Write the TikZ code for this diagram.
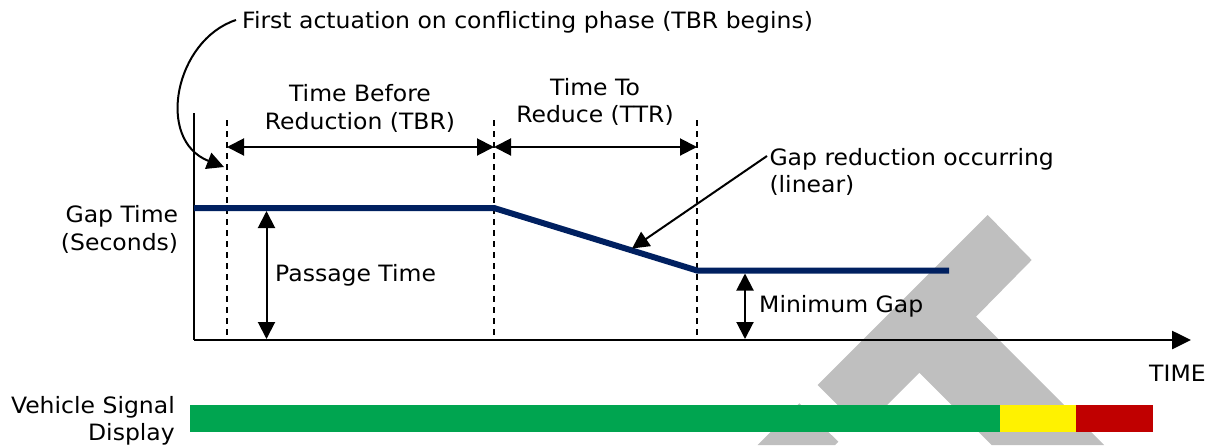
\documentclass[tikz,border=0pt]{standalone}
\usepackage{fontspec}
\setmainfont[FakeStretch=1.045]{DejaVu Sans}
\usetikzlibrary{arrows.meta}
\definecolor{gapnavy}{RGB}{0,32,96}
\definecolor{siggreen}{RGB}{0,165,80}
\definecolor{sigyellow}{RGB}{255,242,0}
\definecolor{sigred}{RGB}{192,0,0}
\definecolor{markgray}{RGB}{191,191,191}
\setlength{\tabcolsep}{0pt}
\begin{document}
\begin{tikzpicture}[x=1pt,y=-1pt,
  lbl/.style={inner sep=0pt, font=\fontsize{22.5}{27.3}\selectfont},
  dimline/.style={line width=2pt, {Triangle[length=17pt,width=17pt]}-{Triangle[length=17pt,width=17pt]}},
  leader/.style={line width=2pt, -{Triangle[length=17pt,width=17pt]}},
  guide/.style={line width=1.8pt, dash pattern=on 6pt off 5pt},
  axisline/.style={line width=2.6pt},
  gapline/.style={gapnavy, line width=6pt},
  sigbar/.style={draw=none, minimum height=26.7pt, inner sep=0pt, anchor=north west}]
\useasboundingbox (0,0) rectangle (1210,445);

% background mark
\fill[markgray] (987.7,215) -- (1031.7,260) -- (976,316.7) -- (1104,445) -- (991.6,445)
  -- (919.3,372.7) -- (862.4,429.6) -- (817.7,385) -- cycle;
\fill[markgray] (799.3,403.3) -- (838.3,441.7) -- (835,445) -- (757.6,445) -- cycle;

% axes
\coordinate (origin) at (194,340);
\coordinate (ytop) at (194,113);
\coordinate (xend) at (1191,340);
\draw[axisline] (ytop) -- (origin);
\draw[axisline, -{Triangle[length=19pt,width=18pt]}] (origin) -- (xend);

% phase boundaries
\coordinate (t0) at (227,120);  \coordinate (t0b) at (227,340);
\coordinate (t1) at (494,120);  \coordinate (t1b) at (494,340);
\coordinate (t2) at (697,120);  \coordinate (t2b) at (697,340);
\draw[guide] (t0) -- (t0b);
\draw[guide] (t1) -- (t1b);
\draw[guide] (t2) -- (t2b);

% interval dimensions
\coordinate (d0) at (227,147);
\coordinate (d1) at (494,147);
\coordinate (d2) at (697,147);
\draw[dimline] (d0) -- (d1);
\draw[dimline] (d1) -- (d2);

% gap time profile
\coordinate (g0) at (194,208);
\coordinate (g1) at (494,208);
\coordinate (g2) at (697,270.5);
\coordinate (g3) at (949,270.5);
\draw[gapline] (g0) -- (g1) -- (g2) -- (g3);

% passage time and minimum gap
\coordinate (pt) at (266.5,211);
\coordinate (pb) at (266.5,339);
\draw[dimline] (pt) -- (pb);
\coordinate (mt) at (745,273.5);
\coordinate (mb) at (745,339);
\draw[dimline] (mt) -- (mb);

% labels
\node[lbl, anchor=base west] (first) at (242,28.3) {First actuation on conflicting phase (TBR begins)};
\node[lbl, anchor=base] (tbr) at (360,101.7) {\begin{tabular}[t]{c}Time Before\\Reduction (TBR)\end{tabular}};
\node[lbl, anchor=base] (ttr) at (595,95.5) {\begin{tabular}[t]{c}Time To\\Reduce (TTR)\end{tabular}};
\node[lbl, anchor=base west] (red) at (769.3,165) {\begin{tabular}[t]{l}Gap reduction occurring\\(linear)\end{tabular}};
\node[lbl, anchor=base east] (gap) at (178.3,222.7) {\begin{tabular}[t]{r}Gap Time\\(Seconds)\end{tabular}};
\node[lbl, anchor=base west] (pass) at (275,281.7) {Passage Time};
\node[lbl, anchor=base west] (ming) at (759,312.7) {Minimum Gap};
\node[lbl, anchor=base west] (time) at (1149,381) {TIME};
\node[lbl, anchor=base east] (veh) at (175,413) {\begin{tabular}[t]{r}Vehicle Signal\\Display\end{tabular}};

% callouts
\coordinate (fa) at (236,20);
\coordinate (fatip) at (224,167);
\draw[leader] (fa) .. controls (175,40) and (155,140) .. (fatip);
\coordinate (ra) at (767,156);
\coordinate (ratip) at (632,248.5);
\draw[leader] (ra) -- (ratip);

% vehicle signal display
\node[sigbar, fill=siggreen, minimum width=810pt] (green) at (190,405) {};
\node[sigbar, fill=sigyellow, minimum width=76pt] (yellow) at (1000,405) {};
\node[sigbar, fill=sigred, minimum width=77pt] (red) at (1076,405) {};
\end{tikzpicture}
\end{document}
